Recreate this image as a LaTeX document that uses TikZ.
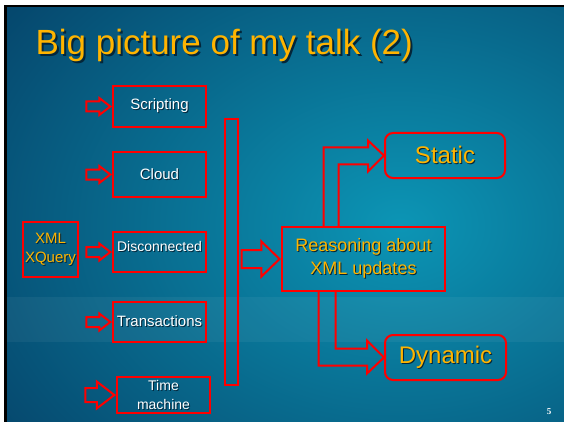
\documentclass[tikz,border=0pt]{standalone}
\usepackage{fontspec}
\setmainfont{Liberation Sans}
\newfontfamily\numfont{Liberation Serif}
\usetikzlibrary{positioning,calc,shapes.arrows}
\definecolor{slideRed}{RGB}{255,0,0}
\definecolor{slideGold}{RGB}{255,180,0}
\definecolor{slideDark}{HTML}{05456B}
\definecolor{slideLight}{HTML}{0C95B5}
\definecolor{shadowCol}{HTML}{03263A}
\newcommand{\shd}[2][1pt]{\rlap{\kern#1\raisebox{-#1}{\textcolor{shadowCol}{#2}}}#2}

\begin{document}
\begin{tikzpicture}[x=1pt,y=-1pt,
  box/.style={draw=slideRed,line width=2pt,inner sep=0pt,align=center,text=white,font=\fontsize{15}{17}\selectfont},
  rbox/.style={box,rounded corners=8pt,text=slideGold,font=\fontsize{24}{28}\selectfont},
  arr/.style={shape=single arrow,draw=slideRed,line width=2pt,inner xsep=0pt,single arrow tip angle=75},
  blk/.style={draw=slideRed,line width=2pt,line join=miter}]
\useasboundingbox (0,0) rectangle (564,422);
% slide background
\fill[black] (4,5) rectangle (564,422);
\begin{scope}
  \clip (7,8) rectangle (564,422);
  \shade[inner color=slideLight,outer color=slideDark] (-100,-150) rectangle (900,600);
  \fill[white,opacity=.05] (7,297) rectangle (564,342);
\end{scope}
\node[anchor=base west,text=slideGold,font=\fontsize{35}{40}\selectfont] (title) at (32,55) {\shd[2pt]{Big picture of my talk (2)}};

% left column
\node[box,minimum width=93pt,minimum height=41pt] (script) at (159.5,106.5) {\shd{Scripting}};
\node[box,minimum width=93pt,minimum height=45pt] (cloud) at (159.5,174.5) {\shd{Cloud}};
\node[box,minimum width=93pt,minimum height=40pt,text depth=12pt,font=\fontsize{14}{16}\selectfont] (disc) at (159.5,252) {\shd{Disconnected}};
\node[box,minimum width=93pt,minimum height=40pt] (trans) at (159.5,322) {\shd{Transactions}};
\node[box,minimum width=93pt,minimum height=36pt,font=\fontsize{14}{19}\selectfont] (time) at (163.5,395) {\shd{Time}\\\shd{machine}};
\node[box,text=slideGold,minimum size=55pt,font=\fontsize{15}{19}\selectfont] (xml) at (50.5,249.5) {\shd{XML}\\\shd{XQuery}};
\foreach \b in {script,cloud,disc,trans}
  \node[arr,inner ysep=4pt,minimum height=24pt,single arrow head extend=3.5pt,left=0pt of \b] (a-\b) {};
\node[arr,inner ysep=6pt,minimum height=29pt,single arrow head extend=6.5pt,left=0pt of time] (a-time) {};

% middle
\node[box,minimum width=13pt,minimum height=266pt] (bar) at (231.5,252) {};
\node[box,text=slideGold,minimum width=163pt,minimum height=64pt,font=\fontsize{18}{23}\selectfont] (reason) at (363.5,259) {\shd{Reasoning about}\\\shd{XML updates}};
\node[arr,inner ysep=8pt,minimum height=38pt,single arrow head extend=8.5pt,single arrow tip angle=88,left=0pt of reason] (a-reason) {};

% right
\node[rbox,minimum width=120pt,minimum height=45pt] (static) at (445,155.5) {\shd{Static}};
\node[rbox,minimum width=121pt,minimum height=45pt] (dynamic) at (445.5,357.5) {\shd{Dynamic}};
\coordinate (up1) at ($(reason.north)+(-40,0)$);
\coordinate (up2) at ($(reason.north)+(-25,0)$);
\coordinate (dn1) at ($(reason.south)+(-45,0)$);
\coordinate (dn2) at ($(reason.south)+(-28,0)$);
\draw[blk] (up1) |- ($(static.west)+(-16,-8)$) -- ++(0,-7) -- (static.west) -- ++(-16,16) -- ++(0,-7) -| (up2);
\draw[blk] (dn1) |- ($(dynamic.west)+(-17,8)$) -- ++(0,8) -- (dynamic.west) -- ++(-17,-17) -- ++(0,8) -| (dn2);

\node[text=white,font=\numfont\bfseries\fontsize{9}{10}\selectfont] (pnum) at (549,412) {5};
\end{tikzpicture}
\end{document}
